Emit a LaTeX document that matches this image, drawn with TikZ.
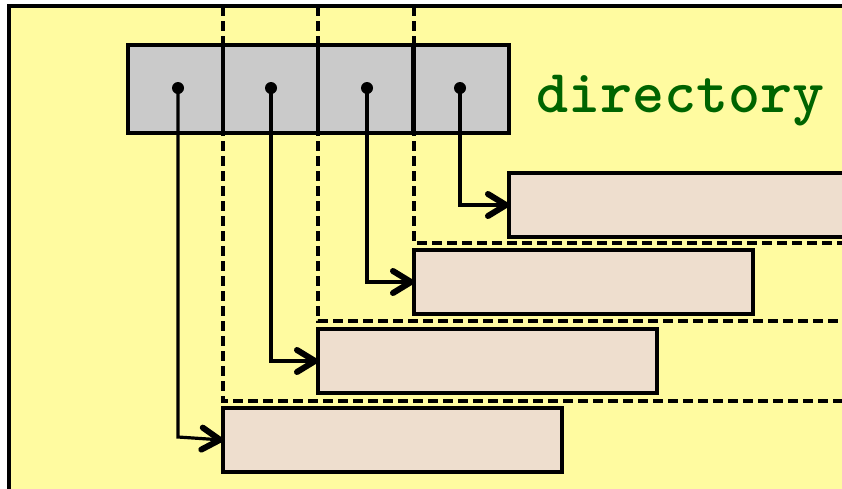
\documentclass[tikz,border=0pt]{standalone}
\usepackage{fontspec}
\usetikzlibrary{arrows.meta}
\definecolor{bgyellow}{RGB}{255,251,160}
\definecolor{cellgray}{RGB}{202,202,202}
\definecolor{boxfill}{RGB}{238,222,206}
\definecolor{dirgreen}{RGB}{0,100,0}
\tikzset{
  cell/.style={draw=black, line width=3.2pt, fill=cellgray, minimum width=95pt, minimum height=88pt, inner sep=0pt, outer sep=0pt, anchor=north west},
  bucket/.style={draw=black, line width=3.4pt, fill=boxfill, minimum width=339pt, minimum height=64pt, inner sep=0pt, outer sep=0pt, anchor=north west},
  dotnode/.style={circle, fill=black, minimum size=12pt, inner sep=0pt},
  split/.style={line width=3.2pt, dash pattern=on 10pt off 5pt},
  ptr/.style={line width=3.2pt, -{Straight Barb[length=18pt,width=22pt,line width=6pt,round]}}
}
\begin{document}
\begin{tikzpicture}[x=1pt,y=-1pt]
\useasboundingbox (0,0) rectangle (842,488);
\clip (0,0) rectangle (842,488);
\fill[white] (0,0) rectangle (842,488);
\draw[line width=3.4pt, fill=bgyellow] (9,6) rectangle (900,560);
% dashed separators
\draw[split] (223,6) -- (223,401) -- (900,401);
\draw[split] (318,6) -- (318,321) -- (900,321);
\draw[split] (414,6) -- (414,243) -- (900,243);
% directory cells
\node[cell] (c1) at (128,45) {};
\node[cell] (c2) at (223,45) {};
\node[cell] (c3) at (318,45) {};
\node[cell] (c4) at (414,45) {};
% buckets
\node[bucket] (b4) at (509,173) {};
\node[bucket] (b3) at (414,250) {};
\node[bucket] (b2) at (318,329) {};
\node[bucket] (b1) at (223,408) {};
% dots
\node[dotnode] (d1) at (178,88) {};
\node[dotnode] (d2) at (271,88) {};
\node[dotnode] (d3) at (367,88) {};
\node[dotnode] (d4) at (460,88) {};
\coordinate (k1) at (178,437);
% pointers
\draw[ptr] (d1.center) -- (k1) -- (b1.west);
\draw[ptr] (d2.center) |- (b2.west);
\draw[ptr] (d3.center) |- (b3.west);
\draw[ptr] (d4.center) |- (b4.west);
% label
\node[anchor=base west, inner sep=0pt, text=dirgreen, font=\ttfamily\bfseries\fontsize{61pt}{66pt}\selectfont] (lbl) at (536,112) {directory};
\end{tikzpicture}
\end{document}
